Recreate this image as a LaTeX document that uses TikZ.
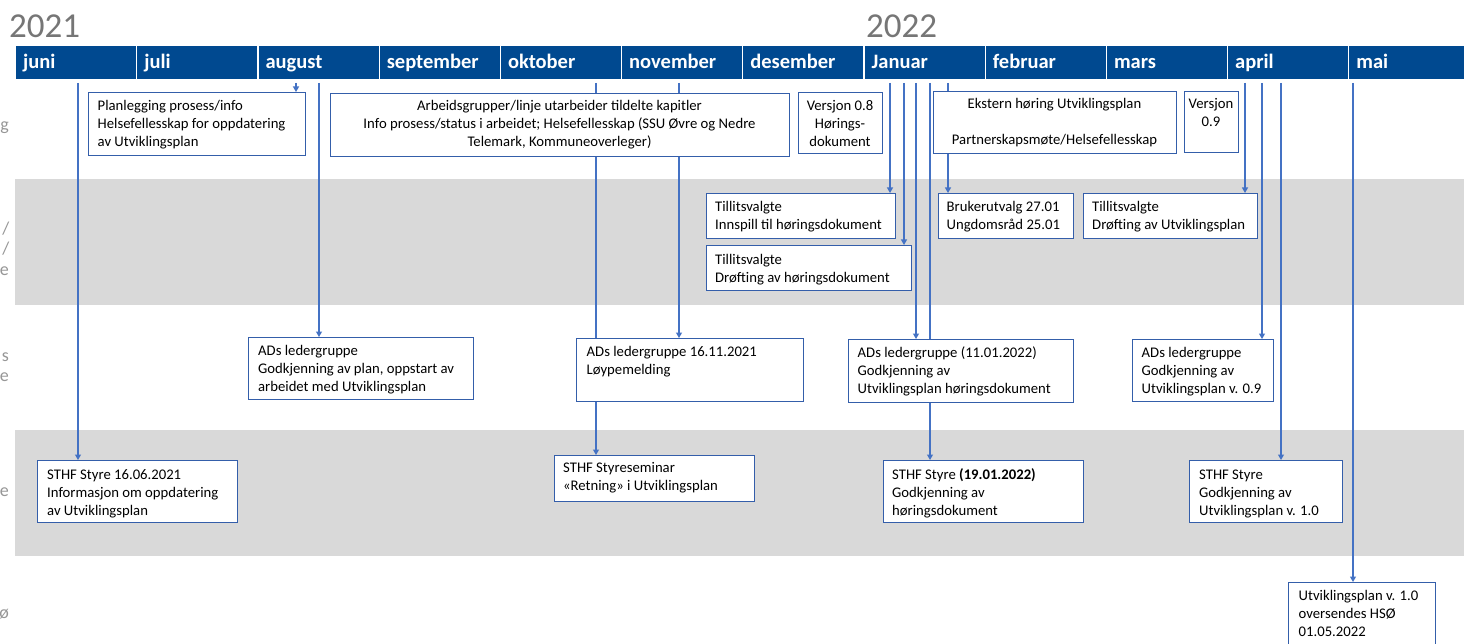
\documentclass[tikz,border=0pt]{standalone}
\usepackage{fontspec}
\setmainfont{Carlito}
\usetikzlibrary{arrows.meta}
\definecolor{barblue}{RGB}{0,73,144}
\definecolor{linecol}{RGB}{68,114,196}
\definecolor{boxcol}{RGB}{52,94,170}
\definecolor{bandgray}{RGB}{217,217,217}
\definecolor{yeargray}{RGB}{118,118,118}
\definecolor{sidegray}{RGB}{150,150,150}
\pgfdeclarelayer{bglayer}
\pgfdeclarelayer{linelayer}
\pgfsetlayers{bglayer,linelayer,main}
\newcommand{\firststrut}{\rule{0pt}{12.5pt}}
\begin{document}
\begin{tikzpicture}[x=1pt,y=-1pt,
  cell/.style={fill=barblue,draw=white,line width=1.2pt,anchor=north west,inner sep=0pt,minimum width=121.2pt,minimum height=34pt},
  mlab/.style={font=\fontsize{20.5}{24}\selectfont\bfseries,text=white,inner sep=0pt,anchor=base west},
  year/.style={font=\fontsize{35}{40}\selectfont,text=yeargray,inner sep=0pt,anchor=base west},
  side/.style={font=\fontsize{18}{22}\selectfont,text=sidegray,inner sep=0pt,anchor=base east},
  box/.style={draw=boxcol,line width=1.3pt,fill=white,anchor=north west,inner sep=0pt},
  txt/.style={font=\fontsize{14.7}{17.9}\selectfont,inner sep=0pt,align=left,anchor=north west,text=black},
  ctxt/.style={txt,align=center,anchor=north},
  conn/.style={draw=linecol,line width=1.1pt,-{Triangle[width=6pt,length=5.5pt]}}]
\useasboundingbox (0,0) rectangle (1464,644);
\clip (0,0) rectangle (1464,644);
\begin{pgfonlayer}{bglayer}
\fill[white] (0,0) rectangle (1464,644);
\fill[bandgray] (15,179) rectangle (1470,305);
\fill[bandgray] (15,430) rectangle (1470,556);
\foreach \i/\nm in {0/juni,1/juli,2/august,3/september,4/oktober,5/november,6/desember,7/Januar,8/februar,9/mars,10/april,11/mai}{
  \node[cell] (m\i) at ({15+121.2*\i},45) {};
  \node[mlab] (ml\i) at ({23+121.2*\i},69) {\nm};
}
\end{pgfonlayer}

% years
\node[year] (y1) at (9,37.5) {2021};
\node[year] (y2) at (866,37.5) {2022};

% clipped row labels at left edge
\node[side] (s1) at (9,131) {g};
\node[side] (s2) at (9.5,235) {/};
\node[side] (s3) at (9.5,255) {/};
\node[side] (s4) at (9,276) {e};
\node[side] (s5) at (9,361) {s};
\node[side] (s6) at (9,381) {e};
\node[side] (s7) at (9,496) {e};
\node[side] (s8) at (9,618) {ø};

% boxes
\node[box,minimum width=217pt,minimum height=63pt] (b1) at (88,92) {};
\node[txt] (t1) at (97.5,98) {\firststrut Planlegging prosess/info\\Helsefellesskap for oppdatering\\av Utviklingsplan};
\node[box,minimum width=459pt,minimum height=63pt] (b2) at (330,93) {};
\node[ctxt] (t2) at (559.5,98) {\firststrut Arbeidsgrupper/linje utarbeider tildelte kapitler\\Info prosess/status i arbeidet; Helsefellesskap (SSU Øvre og Nedre\\Telemark, Kommuneoverleger)};
\node[box,minimum width=84pt,minimum height=61pt] (b3) at (798,92) {};
\node[ctxt] (t3) at (840,98) {\firststrut Versjon 0.8\\Hørings-\\dokument};
\node[box,minimum width=243pt,minimum height=62pt] (b4) at (933,91) {};
\node[ctxt] (t4) at (1054.5,96) {\firststrut Ekstern høring Utviklingsplan\\\strut\\Partnerskapsmøte/Helsefellesskap};
\node[box,minimum width=54pt,minimum height=61pt] (b5) at (1184,91) {};
\node[ctxt] (t5) at (1211,96) {\firststrut Versjon\\0.9};

\node[box,minimum width=189pt,minimum height=45pt] (b6) at (706,193) {};
\node[txt] (t6) at (715,198.5) {\firststrut Tillitsvalgte\\Innspill til høringsdokument};
\node[box,minimum width=205pt,minimum height=45pt] (b7) at (706,245) {};
\node[txt] (t7) at (715,252) {\firststrut Tillitsvalgte\\Drøfting av høringsdokument};
\node[box,minimum width=135pt,minimum height=45pt] (b8) at (938,193) {};
\node[txt] (t8) at (946.5,198.5) {\firststrut Brukerutvalg 27.01\\Ungdomsråd 25.01};
\node[box,minimum width=174pt,minimum height=45pt] (b9) at (1083,193) {};
\node[txt] (t9) at (1092,198.5) {\firststrut Tillitsvalgte\\Drøfting av Utviklingsplan};

\node[box,minimum width=225pt,minimum height=62pt] (b10) at (248,337) {};
\node[txt] (t10) at (258,343) {\firststrut ADs ledergruppe\\Godkjenning av plan, oppstart av\\arbeidet med Utviklingsplan};
\node[box,minimum width=227pt,minimum height=63pt] (b11) at (576,338) {};
\node[txt] (t11) at (586.5,343.5) {\firststrut ADs ledergruppe 16.11.2021\\Løypemelding};
\node[box,minimum width=225pt,minimum height=63pt] (b12) at (848,339) {};
\node[txt] (t12) at (857.5,344.5) {\firststrut ADs ledergruppe (11.01.2022)\\Godkjenning av\\Utviklingsplan høringsdokument};
\node[box,minimum width=141pt,minimum height=62pt] (b13) at (1132,339) {};
\node[txt] (t13) at (1141.5,344.5) {\firststrut ADs ledergruppe\\Godkjenning av\\Utviklingsplan v. 0.9};

\node[box,minimum width=200pt,minimum height=62pt] (b14) at (37,460) {};
\node[txt] (t14) at (47,467) {\firststrut STHF Styre 16.06.2021\\Informasjon om oppdatering\\av Utviklingsplan};
\node[box,minimum width=200pt,minimum height=46pt] (b15) at (554,455) {};
\node[txt] (t15) at (563,460) {\firststrut STHF Styreseminar\\«Retning» i Utviklingsplan};
\node[box,minimum width=200pt,minimum height=62pt] (b16) at (883,460) {};
\node[txt] (t16) at (892,467) {\firststrut STHF Styre \textbf{(19.01.2022)}\\Godkjenning av\\høringsdokument};
\node[box,minimum width=153pt,minimum height=62pt] (b17) at (1189,460) {};
\node[txt] (t17) at (1199,467) {\firststrut STHF Styre\\Godkjenning av\\Utviklingsplan v. 1.0};
\node[box,minimum width=147pt,minimum height=80pt] (b18) at (1288,582) {};
\node[txt] (t18) at (1298.5,587.5) {\firststrut Utviklingsplan v. 1.0\\oversendes HSØ\\01.05.2022};

% connectors
\coordinate (c1) at (78,83);
\coordinate (c2) at (296,83);
\coordinate (c3) at (319,83);
\coordinate (c4) at (596,83);
\coordinate (c5) at (679,83);
\coordinate (c6) at (890,83);
\coordinate (c7) at (904,83);
\coordinate (c8) at (916,83);
\coordinate (c9) at (930,83);
\coordinate (c10) at (948,83);
\coordinate (c11) at (1245,83);
\coordinate (c12) at (1262,83);
\coordinate (c13) at (1281,83);
\coordinate (c14) at (1353,83);
\begin{pgfonlayer}{linelayer}
\draw[conn] (c1) -- (c1 |- b14.north);
\draw[conn] (c2) -- (c2 |- b1.north);
\draw[conn] (c3) -- (c3 |- b10.north);
\draw[conn] (c4) -- (c4 |- b15.north);
\draw[conn] (c5) -- (c5 |- b11.north);
\draw[conn] (c6) -- (c6 |- b6.north);
\draw[conn] (c7) -- (c7 |- b7.north);
\draw[conn] (c8) -- (c8 |- b12.north);
\draw[conn] (c9) -- (c9 |- b16.north);
\draw[conn] (c10) -- (c10 |- b8.north);
\draw[conn] (c11) -- (c11 |- b9.north);
\draw[conn] (c12) -- (c12 |- b13.north);
\draw[conn] (c13) -- (c13 |- b17.north);
\draw[conn] (c14) -- (c14 |- b18.north);
\end{pgfonlayer}
\end{tikzpicture}
\end{document}
